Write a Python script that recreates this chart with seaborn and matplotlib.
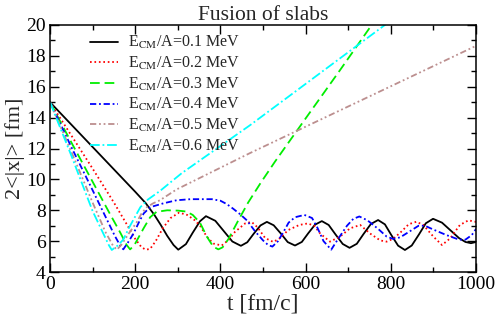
import matplotlib
matplotlib.use("Agg")
import matplotlib.pyplot as plt
from matplotlib.ticker import MultipleLocator
import seaborn as sns
import pandas as pd

# values, t in fm/c, 2<|x|> in fm
t_01 = [0, 100, 200, 225, 245, 260, 275, 290, 301, 319, 335, 352, 366, 388, 408, 428,
        448, 463, 478, 494, 509, 525, 542, 558, 575, 591, 606, 622, 638, 654, 670, 687,
        703, 720, 736, 753, 770, 786, 801, 817, 833, 849, 866, 882, 899, 920, 940, 960,
        975, 988, 1000]
x_01 = [15.0, 12.1, 9.2, 8.45, 7.7, 7.05, 6.35, 5.75, 5.45, 5.81, 6.55, 7.29, 7.62, 7.32, 6.65, 5.98,
        5.7, 5.93, 6.48, 7.02, 7.25, 7.03, 6.49, 5.94, 5.72, 5.95, 6.51, 7.07, 7.3, 7.05, 6.44, 5.82,
        5.57, 5.83, 6.47, 7.11, 7.37, 7.09, 6.4, 5.71, 5.43, 5.72, 6.44, 7.16, 7.45, 7.2, 6.7, 6.2,
        5.95, 5.87, 5.95]

t_02 = [0, 50, 100, 150, 180, 200, 215, 225, 235, 248, 265, 283, 303, 322, 340, 352, 368, 383,
        403, 420, 434, 458, 473, 487, 505, 524, 540, 559, 585, 605, 620, 634, 657, 681, 704,
        728, 751, 775, 790, 805, 822, 842, 860, 876, 900, 920, 939, 962, 982, 1000]
x_02 = [15.0, 12.85, 10.7, 8.5, 7.1, 6.15, 5.6, 5.45, 5.5, 6.0, 6.85, 7.5, 7.85, 7.7, 7.35, 7.0, 6.3, 5.85,
        5.72, 6.1, 6.6, 7.15, 7.25, 6.9, 6.2, 5.95, 6.2, 6.72, 7.05, 7.15, 7.0, 6.5, 5.97, 6.3, 6.83,
        7.05, 6.5, 6.05, 5.97, 6.15, 6.55, 7.1, 7.26, 7.05, 6.29, 5.75, 6.18, 7.05, 7.35, 7.25]

t_03 = [0, 50, 100, 140, 165, 180, 188, 198, 210, 220, 235, 250, 275, 300, 320, 335, 352, 368,
        383, 395, 405, 419, 442, 465, 495, 528, 600, 680, 755, 780]
x_03 = [15.0, 12.4, 9.85, 7.8, 6.55, 5.75, 5.47, 5.75, 6.35, 6.85, 7.55, 7.9, 8.0, 7.98, 7.92, 7.7, 7.2, 6.3,
        5.65, 5.47, 5.6, 6.15, 7.35, 8.5, 9.8, 11.15, 13.95, 17.05, 20.0, 21.0]

t_04 = [0, 50, 100, 130, 152, 164, 172, 185, 196, 210, 220, 235, 266, 297, 330, 380, 400, 415,
        430, 446, 462, 481, 500, 512, 522, 535, 548, 560, 575, 597, 615, 628, 642, 660, 675,
        697, 712, 726, 745, 770, 790, 805, 822, 845, 865, 880, 900, 930, 960, 975, 990, 1000]
x_04 = [15.0, 12.1, 9.3, 7.6, 6.35, 5.75, 5.47, 6.0, 6.5, 7.3, 7.8, 8.2, 8.45, 8.65, 8.72, 8.72, 8.62, 8.4,
        8.1, 7.75, 7.35, 6.65, 6.05, 5.75, 5.65, 6.0, 6.6, 7.2, 7.55, 7.7, 7.5, 6.85, 6.0, 5.45, 6.1,
        7.0, 7.45, 7.6, 7.35, 6.8, 6.3, 6.15, 6.25, 6.65, 7.0, 7.0, 6.75, 6.4, 6.1, 6.1, 6.4, 6.8]

t_05 = [0, 50, 100, 130, 148, 157, 167, 185, 203, 215, 227, 242, 258, 297, 469, 1000]
x_05 = [15.0, 11.8, 8.5, 6.6, 5.7, 5.45, 5.75, 6.5, 7.2, 7.8, 8.2, 8.45, 8.65, 9.35, 11.7, 18.65]

t_06 = [0, 50, 100, 125, 138, 145, 158, 172, 186, 200, 212, 230, 258, 309, 469, 786, 830]
x_06 = [15.0, 11.55, 7.95, 6.5, 5.75, 5.43, 5.7, 6.1, 6.9, 7.6, 8.2, 8.7, 9.25, 10.4, 13.5, 20.0, 20.9]

energies = ["0.1", "0.2", "0.3", "0.4", "0.5", "0.6"]
series = [(t_01, x_01), (t_02, x_02), (t_03, x_03), (t_04, x_04), (t_05, x_05), (t_06, x_06)]
colors = ["black", "#ff0000", "#00ee00", "#0000ff", "#bc8f8f", "#00ffff"]
styles = ["-", (0, (1.2, 2.0)), (0, (7, 3.5)), (0, (4.5, 2, 1.3, 2)),
          (0, (4.5, 2, 1.3, 2, 1.3, 2)), (0, (7, 2, 1.3, 2))]

sns.set_theme(style="ticks")
plt.rcParams["font.family"] = ["Liberation Serif", "DejaVu Serif"]
plt.rcParams["mathtext.fontset"] = "stix"
plt.rcParams["lines.scale_dashes"] = False

fig, ax = plt.subplots(figsize=(4.98, 3.16), dpi=100)
fig.subplots_adjust(left=0.1004, right=0.956, top=0.921, bottom=0.139)

for (t, x), e, c, ls in zip(series, energies, colors, styles):
    df = pd.DataFrame({"t": t, "x": x})
    sns.lineplot(data=df, x="t", y="x", ax=ax, color=c, linestyle=ls, linewidth=1.3,
                 sort=False, estimator=None, label=r"E$_{\rm CM}$/A=" + e + " MeV")

ax.set_xlim(0, 1000)
ax.set_ylim(4, 20)
ax.xaxis.set_major_locator(MultipleLocator(200))
ax.xaxis.set_minor_locator(MultipleLocator(100))
ax.yaxis.set_major_locator(MultipleLocator(2))
ax.yaxis.set_minor_locator(MultipleLocator(1))
ax.tick_params(which="both", direction="in", top=True, right=True, labelsize=14, colors="black")
ax.tick_params(which="major", length=6.5, width=1.0, pad=3)
ax.tick_params(which="minor", length=3.5, width=1.0)
for s in ax.spines.values():
    s.set_linewidth(1.1)
    s.set_color("black")

ax.set_xlabel("t [fm/c]", fontsize=17, labelpad=0)
ax.set_ylabel("2<|x|> [fm]", fontsize=16, labelpad=1)
ax.set_title("Fusion of slabs", fontsize=15.5, pad=3)

ax.legend(loc="upper left", bbox_to_anchor=(0.094, 0.962), frameon=False, fontsize=11.5,
          handlelength=1.75, handletextpad=0.6, labelspacing=0.22, borderpad=0, borderaxespad=0)

fig.savefig("out.png", dpi=100)
